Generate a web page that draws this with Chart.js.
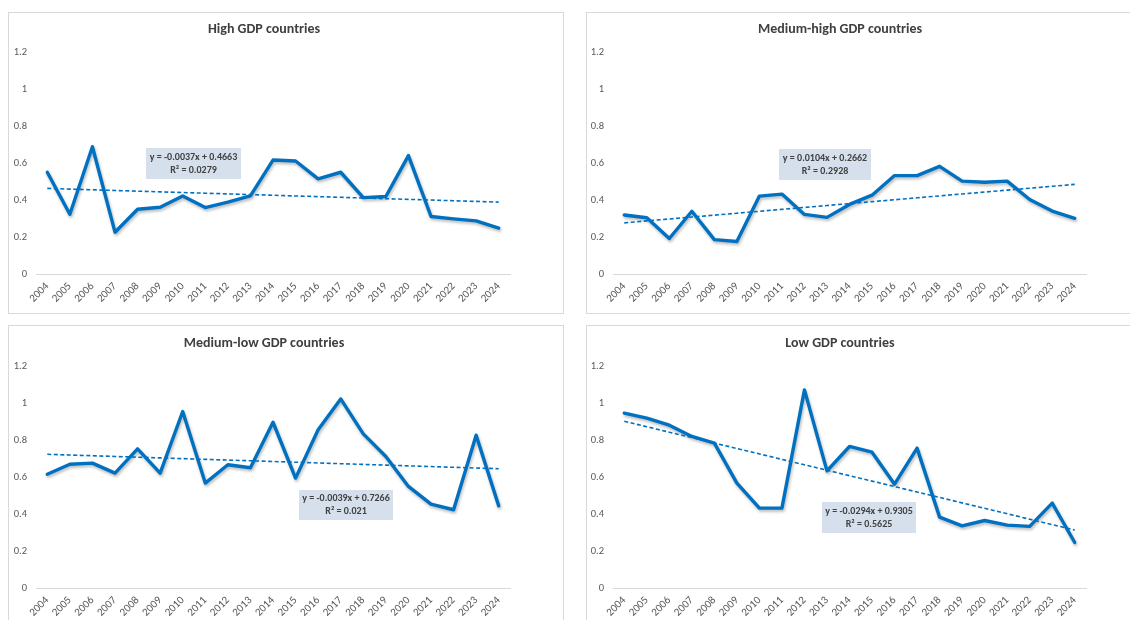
<!DOCTYPE html>
<html>
<head>
<meta charset="utf-8">
<script src="https://cdn.jsdelivr.net/npm/chart.js@4/dist/chart.umd.min.js"></script>
<style>
  html, body { margin:0; padding:0; background:#ffffff; width:1130px; height:620px; overflow:hidden; position:relative; }
  .frame { position:absolute; border:1px solid #d9d9d9; box-sizing:border-box; background:#fff; }
  .cv { position:absolute; }
</style>
</head>
<body>
<div class="frame" style="left:8px;top:12px;width:556px;height:302px;"></div>
<div class="frame" style="left:586px;top:12px;width:560px;height:302px;"></div>
<div class="frame" style="left:8px;top:325px;width:556px;height:310px;"></div>
<div class="frame" style="left:586px;top:325px;width:560px;height:310px;"></div>
<canvas id="c1" class="cv" style="left:8px;top:12px;"></canvas>
<canvas id="c2" class="cv" style="left:586px;top:12px;"></canvas>
<canvas id="c3" class="cv" style="left:8px;top:325px;"></canvas>
<canvas id="c4" class="cv" style="left:586px;top:325px;"></canvas>
<script>
// ---- data ----
const years = ['2004','2005','2006','2007','2008','2009','2010','2011','2012','2013','2014',
               '2015','2016','2017','2018','2019','2020','2021','2022','2023','2024'];
const titles = ['High GDP countries', 'Medium-high GDP countries', 'Medium-low GDP countries', 'Low GDP countries'];
const highGDP = [0.55,0.323,0.688,0.226,0.35,0.361,0.422,0.359,0.388,0.422,0.616,
                 0.611,0.514,0.55,0.413,0.419,0.64,0.311,0.298,0.287,0.248];
const mediumHighGDP = [0.319,0.304,0.192,0.339,0.186,0.176,0.421,0.432,0.322,0.306,0.376,
                       0.426,0.532,0.532,0.582,0.502,0.496,0.502,0.403,0.34,0.301];
const mediumLowGDP = [0.615,0.669,0.675,0.621,0.752,0.621,0.954,0.567,0.666,0.65,0.896,
                      0.594,0.855,1.022,0.833,0.711,0.549,0.453,0.423,0.826,0.444];
const lowGDP = [0.945,0.918,0.88,0.819,0.783,0.567,0.432,0.432,1.071,0.633,0.765,
                0.734,0.561,0.756,0.383,0.336,0.365,0.34,0.333,0.459,0.246];
const trendSlopes = [-0.0037, 0.0104, -0.0039, -0.0294];
const trendIntercepts = [0.4663, 0.2662, 0.7266, 0.9305];
const trendLabels = [
  ['y = -0.0037x + 0.4663', 'R² = 0.0279'],
  ['y = 0.0104x + 0.2662', 'R² = 0.2928'],
  ['y = -0.0039x + 0.7266', 'R² = 0.021'],
  ['y = -0.0294x + 0.9305', 'R² = 0.5625']
];
const yTicks = [0, 0.2, 0.4, 0.6, 0.8, 1, 1.2];
const seriesList = [highGDP, mediumHighGDP, mediumLowGDP, lowGDP];

// ---- layout / style ----
const FONT = 'Carlito, Lato, "Liberation Sans", sans-serif';
const BLUE = '#0070C0';
const layouts = [
  {id:'c1', w:512, h:300, left:28, right:10, top:40, xh:38, titleY:17, box:[138,136,95,31]},
  {id:'c2', w:508, h:300, left:27, right:8,  top:40, xh:38, titleY:17, box:[193,137,92,31]},
  {id:'c3', w:512, h:300, left:28, right:10, top:41, xh:37, titleY:18, box:[291,165,94,30]},
  {id:'c4', w:508, h:300, left:27, right:8,  top:41, xh:37, titleY:18, box:[236,177,94,31]}
];

const titlePlugin = {
  id: 'panelTitle',
  afterDraw(chart, args, opts) {
    const ctx = chart.ctx;
    ctx.save();
    ctx.font = 'bold 14px ' + FONT;
    ctx.fillStyle = '#404040';
    ctx.textAlign = 'center';
    ctx.textBaseline = 'middle';
    ctx.fillText(opts.text, chart.width / 2, opts.y);
    ctx.restore();
  }
};
const eqPlugin = {
  id: 'eqBox',
  afterDatasetsDraw(chart, args, opts) {
    const ctx = chart.ctx;
    const [x, y, w, h] = opts.box;
    ctx.save();
    ctx.fillStyle = '#D6E0EC';
    ctx.fillRect(x, y, w, h);
    ctx.font = 'bold 10px ' + FONT;
    ctx.fillStyle = '#404040';
    ctx.textAlign = 'center';
    ctx.textBaseline = 'middle';
    ctx.fillText(opts.lines[0], x + w / 2, y + h / 2 - 6.5);
    ctx.fillText(opts.lines[1], x + w / 2, y + h / 2 + 6.5);
    ctx.restore();
  }
};
const shadowPlugin = {
  id: 'lineShadow',
  beforeDatasetDraw(chart, args) {
    if (args.index !== 1) return;
    const ctx = chart.ctx;
    ctx.save();
    ctx.shadowColor = 'rgba(0,0,0,0.28)';
    ctx.shadowBlur = 3;
    ctx.shadowOffsetY = 2;
    ctx.shadowOffsetX = 1;
  },
  afterDatasetDraw(chart, args) {
    if (args.index !== 1) return;
    chart.ctx.restore();
  }
};

layouts.forEach((L, k) => {
  const cv = document.getElementById(L.id);
  cv.width = L.w; cv.height = L.h;
  cv.style.width = L.w + 'px'; cv.style.height = L.h + 'px';
  const trend = years.map((_, i) => trendSlopes[k] * (i + 1) + trendIntercepts[k]);
  new Chart(cv, {
    type: 'line',
    data: {
      labels: years,
      datasets: [
        { data: trend, borderColor: BLUE, borderWidth: 1.6, borderDash: [4, 2.5],
          pointRadius: 0, fill: false, tension: 0, order: 0 },
        { data: seriesList[k], borderColor: BLUE, borderWidth: 3.4, pointRadius: 0,
          fill: false, tension: 0, order: 1, borderJoinStyle: 'round', borderCapStyle: 'round' }
      ]
    },
    options: {
      responsive: false,
      animation: false,
      events: [],
      layout: { padding: { left: 0, right: L.right, top: L.top, bottom: 0 } },
      plugins: {
        legend: { display: false },
        tooltip: { enabled: false },
        title: { display: false },
        panelTitle: { text: titles[k], y: L.titleY },
        eqBox: { box: L.box, lines: trendLabels[k] }
      },
      scales: {
        x: {
          type: 'category',
          offset: true,
          grid: { display: false, drawTicks: false },
          border: { display: true, color: '#d9d9d9', width: 1 },
          ticks: { color: '#595959', font: { family: FONT, size: 11 }, minRotation: 45, maxRotation: 45,
                   padding: 6, autoSkip: false },
          afterFit(s) { s.height = L.xh; }
        },
        y: {
          min: 0, max: 1.2,
          afterBuildTicks(s) { s.ticks = yTicks.map(v => ({ value: v })); },
          grid: { display: false, drawTicks: false },
          border: { display: false },
          ticks: { color: '#595959', font: { family: FONT, size: 10.5 }, padding: 9,
                   callback: v => String(v) },
          afterFit(s) { s.width = L.left; }
        }
      }
    },
    plugins: [titlePlugin, eqPlugin, shadowPlugin]
  });
});
</script>
</body>
</html>
